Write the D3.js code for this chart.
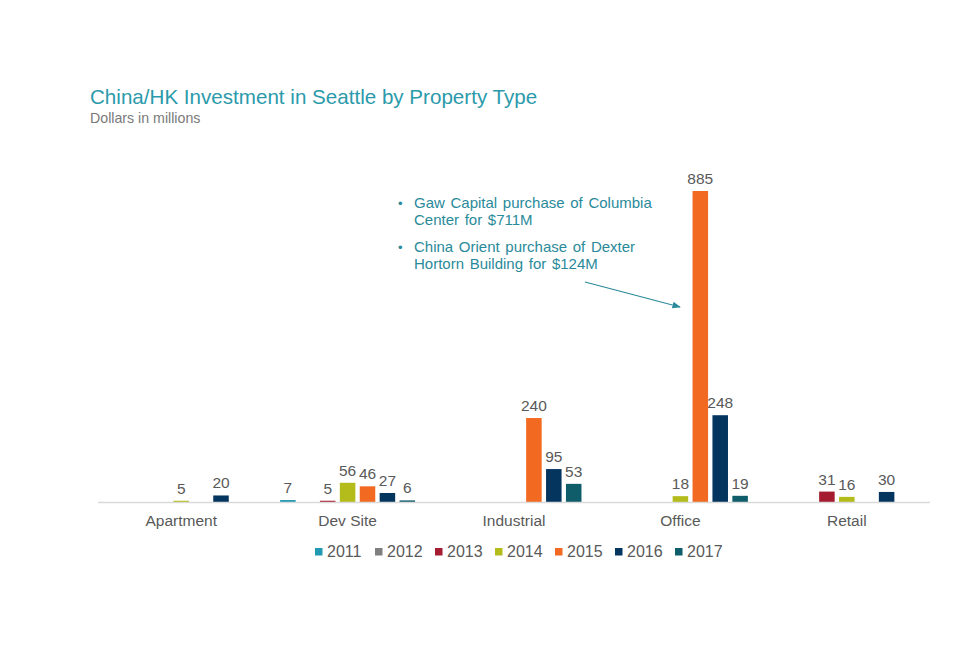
<!DOCTYPE html>
<html>
<head>
<meta charset="utf-8">
<script src="https://cdn.jsdelivr.net/npm/d3@7"></script>
<style>
  body { margin: 0; background: #fff; }
  svg { display: block; font-family: "Liberation Sans", Arial, sans-serif; }
</style>
</head>
<body>
<svg id="chart" width="960" height="654"></svg>
<script>
const categories = ["Apartment", "Dev Site", "Industrial", "Office", "Retail"];
const years = ["2011", "2012", "2013", "2014", "2015", "2016", "2017"];
const yearColors = ["#2199b4", "#7f7f7f", "#a51c30", "#b3bc1a", "#f26a22", "#04355f", "#0f5c6b"];

// null = no deal that year
const values2011 = [null, 7, null, null, null];
const values2012 = [null, null, null, null, null];
const values2013 = [null, 5, null, null, 31];
const values2014 = [5, 56, null, 18, 16];
const values2015 = [null, 46, 240, 885, null];
const values2016 = [20, 27, 95, 248, 30];
const values2017 = [null, 6, 53, 19, null];

const seriesValues = [values2011, values2012, values2013, values2014, values2015, values2016, values2017];

const notes = [
  ["Gaw Capital purchase of Columbia", "Center for $711M"],
  ["China Orient purchase of Dexter", "Hortorn Building for $124M"]
];

const svg = d3.select("#chart");
const left = 98, right = 930, baseY = 502.5, topY = 191;

const x0 = d3.scaleBand().domain(categories).range([left, right]).paddingInner(0.189).paddingOuter(0.0945);
const x1 = d3.scaleBand().domain(years).range([0, x0.bandwidth()]).paddingInner(0.22);
const maxVal = d3.max(seriesValues.flat());
const y = d3.scaleLinear().domain([0, maxVal]).range([baseY, topY]);

// title
svg.append("text").attr("x", 90).attr("y", 104)
  .attr("fill", "#2b9aab").attr("font-size", 20.6)
  .text("China/HK Investment in Seattle by Property Type");
svg.append("text").attr("x", 90).attr("y", 123)
  .attr("fill", "#7a7a7a").attr("font-size", 14.2)
  .text("Dollars in millions");

// flatten to bar records
const bars = [];
years.forEach((yr, i) => {
  seriesValues[i].forEach((v, j) => {
    if (v != null) bars.push({ year: yr, cat: categories[j], value: v, color: yearColors[i] });
  });
});

const g = svg.append("g");

g.selectAll("rect.bar")
  .data(bars)
  .enter()
  .append("rect")
  .attr("class", "bar")
  .attr("x", (d) => x0(d.cat) + x1(d.year))
  .attr("width", x1.bandwidth())
  .attr("y", (d) => y(d.value))
  .attr("height", (d) => baseY - y(d.value))
  .attr("fill", (d) => d.color);

g.selectAll("text.val")
  .data(bars)
  .enter()
  .append("text")
  .attr("class", "val")
  .attr("x", (d) => x0(d.cat) + x1(d.year) + x1.bandwidth() / 2)
  .attr("y", (d) => y(d.value) - 7)
  .attr("text-anchor", "middle")
  .attr("font-size", 15.5)
  .attr("fill", "#595959")
  .text((d) => d.value);

// axis
const axis = svg.append("g")
  .attr("transform", `translate(0,${baseY})`)
  .call(d3.axisBottom(x0).tickSize(0).tickPadding(12));
axis.select(".domain").attr("stroke", "#d9d9d9").attr("stroke-width", 1.5)
  .attr("d", `M${left},0H${right}`);
axis.selectAll("text")
  .attr("font-family", "Liberation Sans, Arial, sans-serif")
  .attr("font-size", 15.5)
  .attr("fill", "#595959");

// legend
const legend = svg.append("g").attr("transform", "translate(315,548)");
years.forEach((yr, i) => {
  const item = legend.append("g").attr("transform", `translate(${i * 60},0)`);
  item.append("rect").attr("width", 7.5).attr("height", 7.5).attr("fill", yearColors[i]);
  item.append("text").attr("x", 12).attr("y", 9)
    .attr("font-size", 16).attr("fill", "#595959").text(yr);
});

// annotation
const noteG = svg.append("g").attr("fill", "#2a8a9a").attr("font-size", 15).attr("word-spacing", 1.5);
notes.forEach((lines, i) => {
  const by = 208 + i * 44;
  noteG.append("text").attr("x", 398).attr("y", by).text("•").attr("font-size", 13);
  lines.forEach((ln, k) => {
    noteG.append("text").attr("x", 414).attr("y", by + k * 17).text(ln);
  });
});

svg.append("defs").append("marker")
  .attr("id", "arrow").attr("viewBox", "0 0 10 10")
  .attr("refX", 9).attr("refY", 5)
  .attr("markerWidth", 7).attr("markerHeight", 7)
  .attr("orient", "auto")
  .append("path").attr("d", "M0,1L10,5L0,9z").attr("fill", "#2a8a9a");

svg.append("line")
  .attr("x1", 585).attr("y1", 282).attr("x2", 680).attr("y2", 307)
  .attr("stroke", "#2a8a9a").attr("stroke-width", 1.2)
  .attr("marker-end", "url(#arrow)");
</script>
</body>
</html>
